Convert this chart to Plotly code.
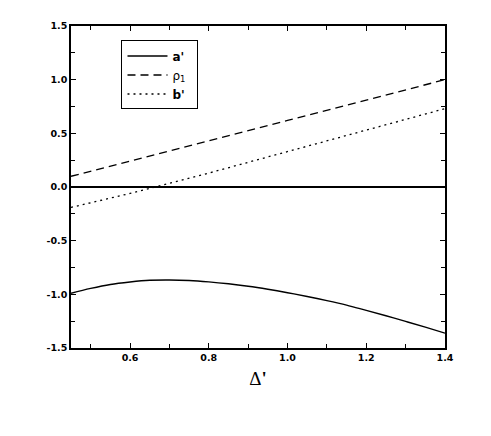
import plotly.graph_objects as go

# ── Data ─────────────────────────────────────────────────────────────────────
delta = [0.45, 0.50, 0.55, 0.60, 0.65, 0.70, 0.75, 0.80, 0.85, 0.90,
         0.95, 1.00, 1.05, 1.10, 1.15, 1.20, 1.25, 1.30, 1.35, 1.40]
a_prime = [-0.990, -0.945, -0.908, -0.885, -0.869, -0.866, -0.871, -0.884, -0.902, -0.925,
           -0.953, -0.985, -1.020, -1.058, -1.100, -1.150, -1.200, -1.252, -1.306, -1.362]

delta_lin = [0.45, 0.60, 0.80, 1.00, 1.20, 1.40]
rho_1 = [0.10, 0.24, 0.43, 0.62, 0.81, 1.00]
b_prime = [-0.19, -0.06, 0.13, 0.33, 0.53, 0.73]

x_ticks = [0.6, 0.8, 1.0, 1.2, 1.4]
x_labels = ["0.6", "0.8", "1.0", "1.2", "1.4"]
y_ticks = [-1.5, -1.0, -0.5, 0.0, 0.5, 1.0, 1.5]
y_labels = ["-1.5", "-1.0", "-0.5", "0.0", "0.5", "1.0", "1.5"]

FONT = "DejaVu Sans, Arial, sans-serif"
SERIF = "Liberation Serif, Times New Roman, serif"

fig = go.Figure()

fig.add_trace(go.Scatter(x=delta, y=a_prime, mode="lines", name="<b>a'</b>  ",
                         line=dict(color="black", width=1.4, shape="spline")))
fig.add_trace(go.Scatter(x=delta_lin, y=rho_1, mode="lines", name="ρ<sub>1</sub>",
                         line=dict(color="black", width=1.3, dash="8px,5px")))
fig.add_trace(go.Scatter(x=delta_lin, y=b_prime, mode="lines", name="<b>b'</b>",
                         line=dict(color="black", width=1.3, dash="2px,4px")))

axis_common = dict(
    showline=True, linecolor="black", linewidth=1.5, mirror="ticks",
    ticks="inside", ticklen=5, tickwidth=1.3, tickcolor="black",
    showgrid=False,
    tickfont=dict(family=FONT, size=9.5, color="black"),
    tickmode="array",
)

fig.update_xaxes(
    **axis_common,
    range=[0.45, 1.4], tickvals=x_ticks, ticktext=[f"<b>{t}</b>" for t in x_labels],
    minor=dict(ticks="inside", ticklen=4, tickwidth=1, tickcolor="black", dtick=0.1, tick0=0.5),
    zeroline=False,
    title=dict(text="Δ<b>'</b>", font=dict(family=SERIF, size=19, color="black"),
               standoff=10),
)
fig.update_yaxes(
    **axis_common,
    range=[-1.5, 1.5], tickvals=y_ticks, ticktext=[f"<b>{t}</b>" for t in y_labels],
    minor=dict(ticks="inside", ticklen=4, tickwidth=1, tickcolor="black", dtick=0.25, tick0=0),
    zeroline=True, zerolinecolor="black", zerolinewidth=1.5,
)

# the page body adds an 8px offset, so margins are shifted to compensate
fig.update_layout(
    width=491, height=436,
    paper_bgcolor="white", plot_bgcolor="white",
    margin=dict(l=63, r=54, t=14, b=96),
    font=dict(family=FONT, color="black"),
    legend=dict(
        x=0.135, y=0.955, xanchor="left", yanchor="top",
        bordercolor="black", borderwidth=1, bgcolor="white",
        font=dict(family=FONT, size=12, color="black"),
        tracegroupgap=0, itemwidth=40,
    ),
)

fig.write_html("out.html")
